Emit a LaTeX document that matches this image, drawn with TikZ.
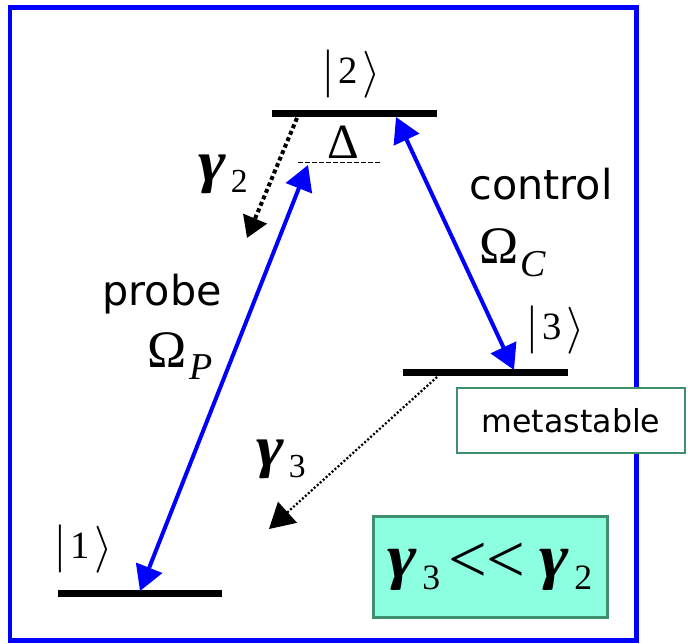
\documentclass[tikz,border=0pt]{standalone}
\usepackage{fontspec}
\setmainfont{Liberation Serif}
\setsansfont{DejaVu Sans}
\usetikzlibrary{arrows.meta, positioning}
\definecolor{eitfill}{HTML}{8CFFE0}
\definecolor{eitedge}{HTML}{3D8F6E}
\newcommand\gam[1]{\scalebox{1.15}[1]{\bfseries\itshape γ}\kern0.08em\raisebox{-0.2em}{\scalebox{0.58}{#1}}}
\newcommand\omg[1]{Ω\kern0.04em\raisebox{-0.24em}{\scalebox{0.72}{\itshape #1}}}
\newcommand\ket[1]{\raisebox{-0.05cm}{\scalebox{1}[1.36]{|}}\kern0.12cm#1\kern0.1cm%
  \raisebox{-0.06cm}{\resizebox*{!}{0.94cm}{$\rangle$}}}

\begin{document}
\begin{tikzpicture}[
    x=0.02cm, y=-0.02cm,
    level/.style={line width=0.14cm, black},
    pump/.style={blue, line width=0.08cm, {Triangle[length=0.5cm, width=0.55cm]}-{Triangle[length=0.5cm, width=0.55cm]}},
    decay/.style={black, line width=0.08cm, dash pattern=on 0.08cm off 0.06cm, -{Triangle[length=0.42cm, width=0.5cm]}},
    ketlbl/.style={font=\fontsize{22}{26}\selectfont},
    lbl/.style={font=\fontsize{33}{38}\selectfont},
    word/.style={font=\sffamily\fontsize{23.5}{28}\selectfont},
]
\useasboundingbox (0,0) rectangle (688,643);

% frame
\draw[blue, line width=0.1cm] (10,7.5) rectangle (636,640.5);

% energy levels
\coordinate (l1a) at (58,593);   \coordinate (l1b) at (222,593);
\coordinate (l2a) at (272,113);  \coordinate (l2b) at (437,113);
\coordinate (l3a) at (403,372);  \coordinate (l3b) at (568,372);
\draw[level] (l1a) -- (l1b);
\draw[level] (l2a) -- (l2b);
\draw[level] (l3a) -- (l3b);

% detuned virtual level
\coordinate (da) at (298,162);   \coordinate (db) at (380,162);
\draw[black, line width=0.02cm, dash pattern=on 0.1cm off 0.04cm] (da) -- (db);
\node[font=\fontsize{28}{32}\selectfont] (delta) at (343,142) {Δ};

% level labels
\node[ketlbl] (k2) at (353,74) {\ket{2}};
\node[ketlbl] (k3) at (557,330) {\ket{3}};
\node[ketlbl] (k1) at (85,549) {\ket{1}};

% fields
\coordinate (p1) at (140,591);   \coordinate (p2) at (308,165);
\coordinate (c2) at (396,117);   \coordinate (c3) at (514,370);
\draw[pump] (p1) -- (p2);
\draw[pump] (c2) -- (c3);

\node[word] (probe) at (162,294) {probe};
\node[font=\fontsize{30}{34}\selectfont] (omp) at (180,356) {\omg{P}};
\node[word] (control) at (541,184) {control};
\node[font=\fontsize{30}{34}\selectfont] (omc) at (513,253) {\omg{C}};

% spontaneous decay
\coordinate (g2a) at (297,118);  \coordinate (g2b) at (247,238);
\coordinate (g3a) at (437,377);  \coordinate (g3b) at (269,529);
\draw[decay] (g2a) -- (g2b);
\draw[decay, line width=0.045cm, dash pattern=on 0.04cm off 0.04cm,
      -{Triangle[length=0.5cm, width=0.56cm]}] (g3a) -- (g3b);
\node[lbl] (lg2) at (223,174) {\gam{2}};
\node[lbl] (lg3) at (281,459) {\gam{3}};

% boxes
\node[draw=eitedge, line width=0.03cm, fill=white, minimum width=228*0.02cm,
      minimum height=65*0.02cm, font=\sffamily\fontsize{18}{22}\selectfont]
      (meta) at (571,420.5) {metastable};
\node[draw=eitedge, line width=0.06cm, fill=eitfill, inner sep=0pt,
      minimum width=234*0.02cm, minimum height=101*0.02cm,
      font=\fontsize{35}{40}\selectfont]
      (ratio) at (490,566.5) {\gam{3}\kern0.14em\raisebox{-0.08em}{\scalebox{1.12}{<}\kern-0.02em\scalebox{1.12}{<}}\kern0.24em\gam{2}};

\end{tikzpicture}
\end{document}
